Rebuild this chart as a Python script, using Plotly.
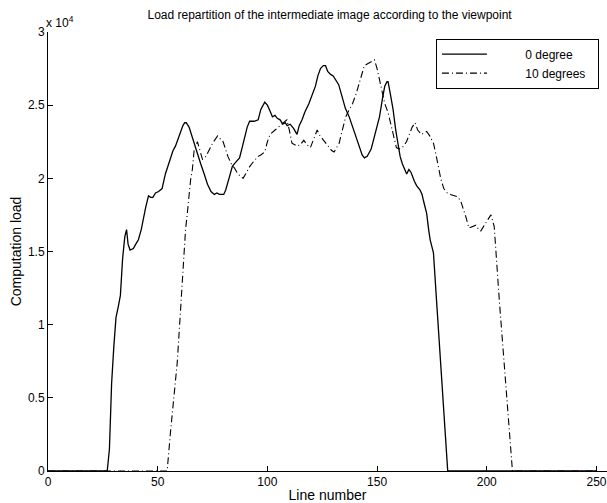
import plotly.graph_objects as go

# 0 degree (solid)
line_0deg = [0, 27, 28, 29, 30, 31, 32, 33, 34, 35, 35.8, 36.5, 37.4, 38.9, 40, 41.2, 42.5, 43.5, 44.5, 45.8,
             46.8, 47.8, 49, 50.4, 52, 53.5, 55, 55.8, 57, 58.1, 59.5, 60.4, 61.5, 62.3, 63, 64.3, 65.5, 66.6,
             68, 69.6, 71.2, 72.7, 74.3, 75.8, 77, 78.1, 80.1, 81, 82.7, 84, 85, 86, 87.3, 88.5, 89.6, 90.8,
             91.9, 94, 95.8, 97, 98.8, 100, 101.2, 102.3, 103.5, 104.5, 105.8, 107, 108.1, 109, 110.4, 112,
             113.5, 114.5, 115.8, 117, 118.9, 120.5, 121.9, 123, 124.2, 125.5, 126.5, 127.5, 128.8, 130, 131.1,
             132.5, 134.2, 135.5, 137.3, 138.8, 140.4, 142, 143.2, 144.2, 145.5, 147.3, 149, 151.1, 152.5,
             153.5, 154.5, 155, 156, 157.3, 158.5, 159.6, 160.5, 161.5, 163, 163.5, 164.5, 165.5, 167, 168,
             169.6, 170.5, 171.1, 172, 172.6, 173.5, 174.2, 175.2, 175.7, 177.3, 178.5, 179.6, 181, 182.2, 250]
load_0deg = [0, 0, 0.15, 0.6, 0.85, 1.05, 1.12, 1.2, 1.45, 1.6, 1.65, 1.55, 1.51, 1.52, 1.55, 1.58, 1.65, 1.74,
             1.8, 1.88, 1.87, 1.87, 1.9, 1.91, 1.93, 2.03, 2.1, 2.15, 2.19, 2.22, 2.28, 2.32, 2.36, 2.38, 2.38,
             2.35, 2.29, 2.24, 2.17, 2.10, 2.03, 1.96, 1.91, 1.89, 1.90, 1.89, 1.89, 1.92, 2.01, 2.08, 2.10,
             2.12, 2.14, 2.21, 2.27, 2.35, 2.39, 2.39, 2.40, 2.47, 2.52, 2.50, 2.46, 2.42, 2.43, 2.41, 2.40,
             2.37, 2.38, 2.36, 2.37, 2.34, 2.30, 2.36, 2.40, 2.45, 2.51, 2.57, 2.63, 2.70, 2.75, 2.77, 2.77,
             2.73, 2.71, 2.70, 2.67, 2.64, 2.55, 2.48, 2.42, 2.35, 2.28, 2.2, 2.16, 2.14, 2.15, 2.2, 2.3, 2.42,
             2.55, 2.63, 2.66, 2.66, 2.58, 2.47, 2.33, 2.22, 2.15, 2.10, 2.05, 2.03, 2.06, 2.04, 1.98, 1.95,
             1.92, 1.89, 1.85, 1.80, 1.76, 1.65, 1.58, 1.52, 1.49, 1.12, 0.85, 0.60, 0.3, 0, 0]

# 10 degrees (dash-dot)
line_10deg = [0, 54.3, 55.8, 57, 58.9, 60, 61.2, 62.7, 63.5, 65, 65.8, 66.6, 68.1, 69, 70.4, 72, 73.5, 75, 77.3,
              78.5, 79.6, 80.8, 82, 83.5, 85, 86.5, 88.9, 90.5, 91.9, 94, 95.8, 97, 98.8, 100, 101.2, 103.5,
              105, 106.5, 108.9, 110, 111.2, 113.5, 115, 116.6, 118, 119.6, 121, 122.7, 124, 125, 126.5, 128.1,
              129.3, 130.4, 131.5, 132.7, 134, 135.7, 137, 138.8, 140.5, 141.9, 143, 144.2, 145.3, 146.5, 147.7,
              148.8, 150, 151.1, 152.3, 153.5, 155, 156.5, 157.7, 158.8, 160, 161.5, 163.4, 165, 166, 167.3,
              168.5, 170.3, 172.6, 174, 175.7, 177, 178, 179, 180.4, 182, 183.4, 185, 186.5, 188, 189.2, 190.4,
              191.9, 193.5, 195, 196.3, 197.3, 198.5, 199.6, 201, 201.9, 203.4, 205.7, 208, 210.3, 211.7, 250]
load_10deg = [0, 0, 0.26, 0.45, 0.74, 1.0, 1.31, 1.65, 1.76, 1.99, 2.06, 2.19, 2.25, 2.2, 2.13, 2.15, 2.19, 2.24,
              2.29, 2.27, 2.26, 2.2, 2.15, 2.1, 2.07, 2.03, 2.0, 2.04, 2.08, 2.12, 2.15, 2.16, 2.18, 2.25, 2.30,
              2.33, 2.35, 2.37, 2.40, 2.33, 2.24, 2.22, 2.23, 2.26, 2.23, 2.21, 2.27, 2.33, 2.29, 2.27, 2.24,
              2.21, 2.19, 2.18, 2.21, 2.24, 2.32, 2.42, 2.46, 2.51, 2.58, 2.65, 2.72, 2.77, 2.78, 2.79, 2.80,
              2.81, 2.75, 2.67, 2.58, 2.51, 2.45, 2.35, 2.27, 2.21, 2.20, 2.21, 2.25, 2.31, 2.35, 2.38, 2.33,
              2.30, 2.32, 2.29, 2.24, 2.15, 2.08, 2.00, 1.93, 1.90, 1.89, 1.88, 1.875, 1.85, 1.80, 1.74, 1.66,
              1.67, 1.68, 1.65, 1.64, 1.67, 1.70, 1.73, 1.75, 1.67, 1.17, 0.71, 0.26, 0, 0]

scale = 1e4
y0 = [v * scale for v in load_0deg]
y10 = [v * scale for v in load_10deg]

x_ticks = [0, 50, 100, 150, 200, 250]
y_ticks = [0, 5000, 10000, 15000, 20000, 25000, 30000]
y_ticktext = ["0", "0.5", "1", "1.5", "2", "2.5", "3"]

NB = "\u00a0"
fig = go.Figure()
fig.add_trace(go.Scatter(x=line_0deg, y=y0, mode="lines", name=NB * 10 + "0 degree",
                         line=dict(color="black", width=1.3)))
fig.add_trace(go.Scatter(x=line_10deg, y=y10, mode="lines", name=NB * 10 + "10 degrees" + NB * 2,
                         line=dict(color="black", width=1.1, dash="7px,3px,1px,3px")))

font = "Arial, Liberation Sans, Helvetica, sans-serif"
fig.update_layout(
    width=607, height=503,
    margin=dict(l=48, r=0, t=32, b=32),
    paper_bgcolor="white", plot_bgcolor="white",
    font=dict(family=font, size=12, color="black"),
    title=dict(text="Load repartition of the intermediate image according to the viewpoint",
               x=0.543, xanchor="center", y=0.970, yanchor="middle", font=dict(size=12)),
    showlegend=True,
    legend=dict(x=0.694, y=0.985, xanchor="left", yanchor="top", bgcolor="white",
                bordercolor="black", borderwidth=1, font=dict(size=12), itemwidth=45,
                tracegroupgap=0),
    xaxis=dict(range=[0, 254.8], tickvals=x_ticks, ticks="inside", ticklen=5, tickcolor="black",
               showline=True, linecolor="black", linewidth=1, mirror=False, showgrid=False,
               zeroline=False, automargin=False,
               title=dict(text="Line number", standoff=2), tickfont=dict(size=12)),
    yaxis=dict(range=[0, 30000], tickvals=y_ticks, ticktext=y_ticktext, ticks="inside", ticklen=5,
               tickcolor="black", showline=True, linecolor="black", linewidth=1, mirror=False,
               showgrid=False, zeroline=False, automargin=False,
               title=dict(text="Computation load", standoff=3), tickfont=dict(size=12)),
    annotations=[dict(text="x 10<sup>4</sup>", xref="paper", yref="paper", x=-0.008, y=1.0,
                      xanchor="left", yanchor="bottom", showarrow=False, font=dict(size=12))],
)

fig.write_html("out.html")
